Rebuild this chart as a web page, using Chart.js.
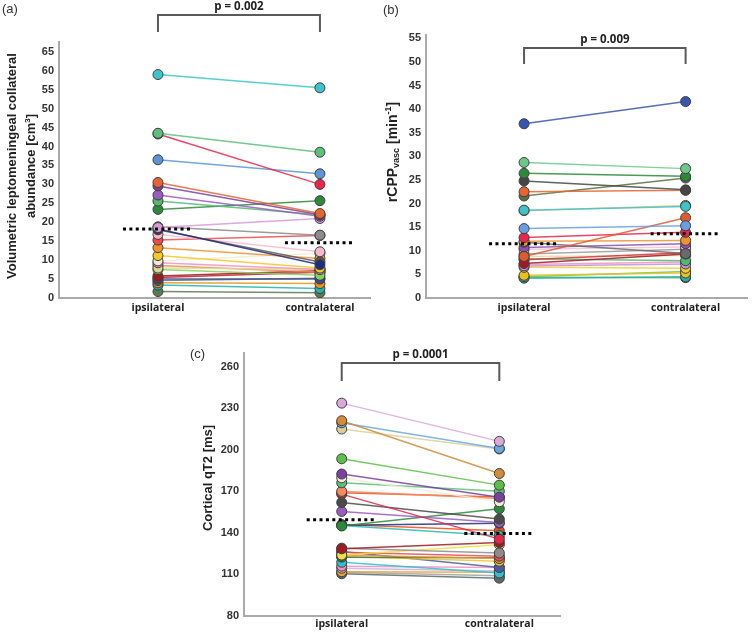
<!DOCTYPE html>
<html><head><meta charset="utf-8">
<script src="https://cdn.jsdelivr.net/npm/chart.js@4.4.1/dist/chart.umd.min.js"></script>
<style>
body{margin:0;background:#fff;width:753px;height:633px;position:relative;overflow:hidden}
canvas{position:absolute;display:block}
</style></head><body>
<canvas id="ca" width="376" height="320" style="left:0;top:0"></canvas>
<canvas id="cb" width="373" height="320" style="left:380px;top:0"></canvas>
<canvas id="cc" width="390" height="303" style="left:180px;top:330px"></canvas>
<script>
const categories = ['ipsilateral', 'contralateral'];

// Panel (a): volumetric leptomeningeal collateral abundance [cm3]
const aIpsi   = [59.0, 43.5, 43.3, 36.5, 30.5, 29.6, 27.2, 25.6, 23.4, 18.6, 18.8, 18.2, 18.0, 16.8, 15.3, 13.3, 11.2, 9.8, 9.3, 7.9, 7.5, 8.6, 5.8, 5.4, 5.0, 4.6, 4.0, 3.4, 1.7];
const aContra = [55.5, 38.5, 30.0, 32.8, 22.3, 22.0, 21.6, 22.0, 25.7, 21.0, 16.6, 8.8, 9.5, 12.2, 16.5, 10.4, 7.9, 11.8, 7.5, 7.6, 6.0, 6.8, 7.2, 6.8, 5.0, 5.2, 3.8, 2.5, 1.4];
const aColors = ['#3cc4c8','#5cbf7a','#e8254a','#5a95d8','#e8632f','#7b3fa0','#9a5cc0','#58b870','#2a8a3a','#d59ad8','#8c8c8c','#1f2d7a','#5a5a5a','#f7b8d0','#ec4a4f','#f0922e','#f2c82a','#f3ead0','#f58fbf','#d8d896','#7fd45a','#f08a48','#9a1a20','#c81e2a','#3b4a8a','#5f6f7a','#e8901e','#1fb5b0','#5a7a50'];
const aTicks = [0,5,10,15,20,25,30,35,40,45,50,55,60,65];
const aMedian = [18.2, 14.6];
const aP = 'p = 0.002';

// Panel (b): rCPPvasc [min-1]
const bIpsi   = [36.9, 28.7, 26.4, 24.8, 22.5, 21.6, 18.6, 18.5, 14.7, 8.8, 12.8, 12.0, 11.8, 10.7, 10.3, 9.3, 7.3, 8.1, 8.3, 8.8, 6.8, 7.1, 6.5, 4.8, 4.5, 4.2, 4.4];
const bContra = [41.6, 27.4, 25.8, 22.9, 22.8, 25.4, 19.4, 19.6, 15.3, 17.0, 13.9, 12.2, 9.4, 11.5, 10.8, 10.3, 9.3, 9.6, 7.9, 9.0, 7.2, 7.6, 6.3, 5.3, 5.6, 4.5, 4.3];
const bColors = ['#3a55b0','#6cc88a','#2a8a3a','#454545','#e8632f','#5a7040','#3cc4c8','#f0c080','#6a9ee0','#e05a30','#e8254a','#f0922e','#6a6a6a','#8a4fb0','#f8c0d8','#9a9a9a','#a01a24','#d8303a','#4fb870','#e8d8a0','#c090d8','#f090c0','#f2d02a','#e8c020','#6ac850','#20b0b0','#5ab850'];
const bTicks = [0,5,10,15,20,25,30,35,40,45,50,55];
const bMedian = [11.5, 13.6];
const bP = 'p = 0.009';

// Panel (c): cortical qT2 [ms]
const cIpsi   = [233.7, 221.0, 219.5, 215.0, 193.5, 182.5, 179.8, 176.2, 170.0, 169.0, 168.0, 162.0, 155.5, 145.0, 145.5, 145.3, 146.0, 128.5, 129.0, 124.0, 126.0, 124.0, 122.5, 123.0, 126.5, 118.8, 116.0, 114.5, 112.0, 110.5, 111.5];
const cContra = [206.1, 182.9, 201.0, 200.6, 174.5, 165.8, 162.5, 170.0, 164.8, 166.0, 135.5, 150.0, 147.5, 157.5, 147.0, 138.0, 141.5, 133.0, 125.5, 131.5, 123.2, 121.5, 122.0, 119.5, 115.0, 111.0, 115.0, 112.5, 111.5, 107.3, 109.0];
const cColors = ['#d8a8d8','#d48a38','#6aa8e0','#d8d098','#5abf48','#7a3fa0','#f2ecd8','#5ac078','#f88a60','#e8501e','#e8254a','#4a4a4a','#9a5cc0','#2a8a3a','#1f2d7a','#2ab8b0','#e8501e','#a01a24','#8c8c8c','#f2e040','#ec4a4f','#f0922e','#3a7a40','#e8c830','#4a5aa8','#30c0d0','#f58fbf','#c8b0e0','#f0a030','#5a6a6a','#a0a0a0'];
const cTicks = [80,110,140,170,200,230,260];
const cMedian = [149.5, 139.5];
const cP = 'p = 0.0001';

const annot = {
  id: 'annot',
  afterDatasetsDraw(chart, args, o) {
    const ctx = chart.ctx, xs = chart.scales.x, ys = chart.scales.y;
    ctx.save();
    ctx.strokeStyle = '#000'; ctx.lineWidth = 3; ctx.setLineDash([3, 3.4]);
    o.medians.forEach((m, i) => {
      const cx = xs.getPixelForValue(i + 1), y = ys.getPixelForValue(m);
      ctx.beginPath(); ctx.moveTo(cx - 35, y); ctx.lineTo(cx + 35, y); ctx.stroke();
    });
    ctx.restore();
  },
  afterDraw(chart, args, o) {
    const ctx = chart.ctx, xs = chart.scales.x;
    ctx.save();
    const x1 = xs.getPixelForValue(1), x2 = xs.getPixelForValue(2);
    ctx.strokeStyle = '#5a5a5a'; ctx.lineWidth = 2;
    ctx.beginPath();
    ctx.moveTo(x1, o.brBottom); ctx.lineTo(x1, o.brTop); ctx.lineTo(x2, o.brTop); ctx.lineTo(x2, o.brBottom);
    ctx.stroke();
    ctx.fillStyle = '#222'; ctx.textAlign = 'center'; ctx.textBaseline = 'middle';
    ctx.font = 'bold 11.5px "Open Sans"';
    ctx.fillText(o.p, (x1 + x2) / 2, o.brTop - 8.5);
    ctx.font = '13px "Liberation Sans"'; ctx.fillStyle = '#333'; ctx.textAlign = 'left';
    ctx.fillText(o.label, o.labelX, o.labelY);
    ctx.fillStyle = '#222';
    o.title(ctx);
    ctx.restore();
  }
};

function rotText(ctx, x, y, parts) {
  ctx.save();
  ctx.translate(x, y); ctx.rotate(-Math.PI / 2);
  ctx.textBaseline = 'middle'; ctx.textAlign = 'left';
  let w = 0;
  parts.forEach(p => { ctx.font = 'bold ' + p.size + 'px "Liberation Sans"'; w += ctx.measureText(p.t).width; });
  let cx = -w / 2;
  parts.forEach(p => { ctx.font = 'bold ' + p.size + 'px "Liberation Sans"'; ctx.fillText(p.t, cx, p.dy || 0); cx += ctx.measureText(p.t).width; });
  ctx.restore();
}

function alpha(hex, a) {
  const n = parseInt(hex.slice(1), 16);
  return 'rgba(' + (n >> 16) + ',' + ((n >> 8) & 255) + ',' + (n & 255) + ',' + a + ')';
}

function panel(id, o) {
  const datasets = o.ipsi.map((v, i) => ({
    data: [{x: 1, y: v}, {x: 2, y: o.contra[i]}],
    borderColor: alpha(o.colors[i], 0.85), backgroundColor: o.colors[i],
    pointBackgroundColor: o.colors[i], pointBorderColor: '#404040', pointBorderWidth: 1,
    pointRadius: 5, borderWidth: 1.5, showLine: true, fill: false
  }));
  const tickFont = {family: '"Liberation Sans"', size: 11, weight: 'bold'};
  return new Chart(document.getElementById(id), {
    type: 'scatter',
    data: {datasets},
    options: {
      responsive: false, animation: false, events: [],
      layout: {padding: {top: o.padTop, right: o.padRight, left: 0, bottom: 0}},
      plugins: {legend: {display: false}, tooltip: {enabled: false}, annot: o.annot},
      scales: {
        x: {
          type: 'linear', min: o.xmin, max: o.xmax,
          grid: {display: false, drawTicks: false},
          border: {display: true, color: '#aaaaaa', width: 2},
          afterBuildTicks: s => { s.ticks = [{value: 1}, {value: 2}]; },
          ticks: {callback: v => categories[v - 1], font: {family: '"Open Sans"', size: 10.5, weight: 'bold'}, color: '#222', padding: o.xPad, autoSkip: false, maxRotation: 0},
          afterFit: s => { s.height = o.xh; }
        },
        y: {
          type: 'linear', min: o.ymin, max: o.ymax,
          grid: {display: false, drawTicks: false},
          border: {display: true, color: '#aaaaaa', width: 2},
          afterBuildTicks: s => { s.ticks = o.ticks.map(v => ({value: v})); },
          ticks: {font: tickFont, color: '#333', padding: 5},
          afterFit: s => { s.width = o.yw; }
        }
      }
    },
    plugins: [annot]
  });
}

panel('ca', {
  ipsi: aIpsi, contra: aContra, colors: aColors, ticks: aTicks,
  xmin: 0.389, xmax: 2.309, ymin: 0, ymax: 67.6,
  padTop: 42, padRight: 6, yw: 59, xh: 22, xPad: 4,
  annot: {medians: aMedian, p: aP, brTop: 15, brBottom: 32, label: '(a)', labelX: 2, labelY: 9,
    title: ctx => {
      rotText(ctx, 12.5, 166, [{t: 'Volumetric leptomeningeal collateral', size: 13}]);
      rotText(ctx, 31.5, 166, [{t: 'abundance [cm', size: 13}, {t: '3', size: 8, dy: -4}, {t: ']', size: 13}]);
    }}
});

panel('cb', {
  ipsi: bIpsi, contra: bContra, colors: bColors, ticks: bTicks,
  xmin: 0.393, xmax: 2.38, ymin: 0, ymax: 55.7,
  padTop: 35, padRight: 3, yw: 46, xh: 22, xPad: 4,
  annot: {medians: bMedian, p: bP, brTop: 48, brBottom: 64, label: '(b)', labelX: 3, labelY: 10,
    title: ctx => {
      rotText(ctx, 13, 152, [{t: 'rCPP', size: 14}, {t: 'vasc', size: 9, dy: 4}, {t: ' [min', size: 14}, {t: '-1', size: 9, dy: -4}, {t: ']', size: 14}]);
    }}
});

panel('cc', {
  ipsi: cIpsi, contra: cContra, colors: cColors, ticks: cTicks,
  xmin: 0.38, xmax: 2.385, ymin: 80, ymax: 269.9,
  padTop: 23, padRight: 10, yw: 64, xh: 17, xPad: 2,
  annot: {medians: cMedian, p: cP, brTop: 33, brBottom: 51, label: '(c)', labelX: 10, labelY: 24,
    title: ctx => {
      rotText(ctx, 28, 148, [{t: 'Cortical qT2 [ms]', size: 13}]);
    }}
});
</script>
</body></html>
